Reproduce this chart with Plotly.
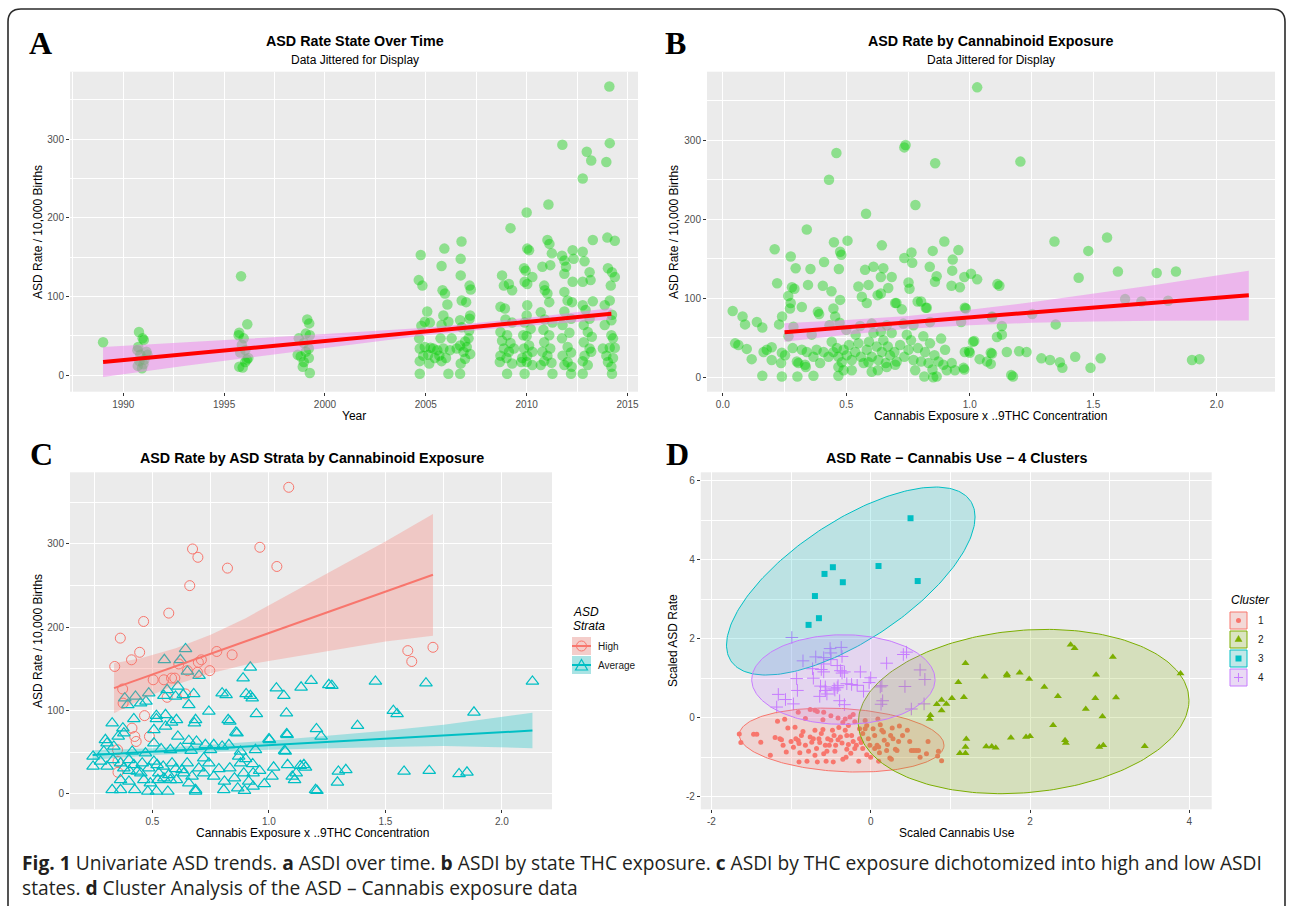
import numpy as np
import plotly.graph_objects as go

W, H = 1292, 906
FONT = "Liberation Sans, Arial, Helvetica, sans-serif"

# ---------------- Panel A : ASD rate by (jittered) year ----------------
a_year = [1989.00,
          1990.78, 1990.96, 1991.02, 1990.74, 1990.70, 1990.85, 1991.20, 1991.05, 1991.00, 1990.72, 1990.93, 1991.15, 1990.80,
          1995.84, 1996.15, 1995.75, 1995.72, 1995.97, 1995.88, 1996.05, 1995.80, 1996.13, 1996.05, 1995.75, 1995.92, 1996.20,
          1999.12, 1999.22, 1999.05, 1999.25, 1998.70, 1998.95, 1999.20, 1998.65, 1999.20, 1998.95, 1998.90, 1999.25, 1998.80, 1999.05,
          2004.75, 2004.65, 2004.83, 2005.07, 2004.95, 2005.20, 2004.78, 2004.67, 2004.70, 2004.95, 2005.23, 2004.87, 2005.12, 2004.70, 2005.17, 2004.70, 2005.37, 2005.45,
          2005.92, 2005.78, 2005.83, 2005.95, 2006.07, 2005.87, 2006.12, 2005.78, 2005.73, 2005.87, 2006.20, 2005.67, 2005.78, 2006.12, 2005.57, 2006.00, 2006.28,
          2006.77, 2006.73, 2006.73, 2007.17, 2007.23, 2006.78, 2007.00, 2007.17, 2007.20, 2006.70, 2006.78, 2007.15, 2006.95, 2007.12, 2006.70, 2007.03, 2006.87, 2007.20, 2006.95, 2006.73, 2006.70, 2006.53,
          2009.20, 2008.78, 2008.87, 2009.12, 2009.28, 2008.70, 2008.92, 2008.95, 2009.28, 2008.70, 2009.03, 2008.78, 2009.20, 2008.87, 2009.12, 2008.70, 2009.00, 2008.67, 2009.28, 2009.03, 2009.37,
          2010.00, 2010.03, 2010.12, 2009.87, 2009.95, 2010.28, 2009.90, 2010.03, 2010.03, 2010.00, 2009.90, 2010.20, 2009.83, 2010.00, 2010.12, 2009.87, 2010.28, 2010.03, 2009.78, 2010.00, 2010.28, 2009.90, 2009.73,
          2011.08, 2011.03, 2011.13, 2011.25, 2010.78, 2011.17, 2010.90, 2011.03, 2011.12, 2010.87, 2010.70, 2010.90, 2011.28, 2010.83, 2011.12, 2010.87, 2011.17, 2010.78, 2011.03, 2010.87, 2011.23, 2011.28, 2010.70,
          2011.77, 2012.28, 2011.87, 2011.95, 2011.75, 2012.33, 2012.28, 2011.87, 2012.03, 2011.87, 2012.25, 2011.87, 2012.20, 2011.78, 2012.12, 2011.75, 2012.03, 2012.20, 2011.78, 2012.03, 2012.23, 2011.87, 2012.20,
          2012.98, 2013.20, 2012.78, 2013.28, 2012.78, 2012.87, 2013.12, 2013.17, 2012.78, 2013.28, 2012.78, 2012.92, 2013.12, 2012.83, 2013.03, 2013.23, 2012.83, 2013.12, 2012.87, 2013.20, 2012.78, 2013.03, 2012.78,
          2014.10, 2014.12, 2013.95, 2014.00, 2014.37, 2014.03, 2014.23, 2014.37, 2014.17, 2013.87, 2014.12, 2014.23, 2014.20, 2013.87, 2014.20, 2014.28, 2013.78, 2014.12, 2013.95, 2014.28, 2014.03, 2014.20, 2014.23, 2014.37]
a_rate = [42,
          55, 47, 45, 36, 32, 26, 26, 20, 14, 12, 9, 30, 18,
          126, 65, 54, 51, 47, 39, 32, 29, 20, 17, 11, 10, 22,
          71, 66, 53, 51, 47, 41, 34, 26, 22, 17, 11, 3, 24, 30,
          153, 121, 114, 81, 68, 67, 63, 47, 34, 36, 35, 25, 26, 18, 15, 2, 34, 22,
          161, 139, 108, 104, 90, 76, 68, 64, 47, 34, 32, 25, 18, 2, 32, 22, 47,
          170, 148, 127, 114, 109, 95, 93, 72, 76, 70, 61, 57, 43, 47, 38, 36, 30, 27, 21, 15, 2, 34,
          187, 127, 114, 116, 108, 87, 85, 71, 67, 55, 51, 44, 41, 34, 30, 25, 22, 17, 15, 2, 34,
          207, 161, 159, 136, 133, 125, 119, 116, 89, 76, 67, 59, 51, 50, 38, 34, 30, 25, 22, 17, 13, 2, 17,
          217, 172, 167, 155, 138, 140, 108, 104, 93, 114, 80, 71, 67, 58, 51, 42, 34, 30, 25, 18, 16, 2, 13,
          293, 159, 146, 138, 152, 148, 119, 129, 95, 106, 93, 81, 72, 64, 54, 47, 36, 29, 25, 17, 11, 13, 2,
          284, 273, 250, 172, 157, 145, 131, 121, 119, 94, 89, 83, 72, 64, 55, 49, 42, 34, 25, 30, 18, 13, 2,
          367, 295, 271, 175, 171, 136, 131, 125, 114, 89, 95, 77, 70, 64, 51, 47, 34, 35, 25, 22, 17, 11, 2, 35]
a_fit_year = [1989, 1993, 1997, 2001, 2005, 2008, 2011, 2014.2]
a_fit = [17, 26.7, 36.4, 46.1, 55.8, 63.1, 70.3, 78.1]
a_lo = [-2, 12, 25, 38, 51, 58.5, 65, 71]
a_hi = [36, 41.5, 47.8, 54.2, 60.6, 67.7, 75.6, 85.5]

# ---------------- Panel B : ASD rate by cannabis exposure ----------------
b_expo = [1.03, 0.74, 0.735, 0.46, 0.86, 1.205, 0.43, 0.58, 0.78, 0.34,
          0.21, 0.275, 0.45, 0.505, 0.475, 0.48, 0.41, 0.295, 0.355, 0.47,
          0.22, 0.28, 0.29, 0.345, 0.405, 0.44, 0.265, 0.275, 0.272, 0.32,
          0.385, 0.39, 0.475, 0.448, 0.455, 0.04, 0.08, 0.09, 0.138, 0.16,
          0.228, 0.24, 0.286, 0.36, 0.05, 0.063, 0.097, 0.117, 0.165, 0.178,
          0.198, 0.239, 0.198, 0.236, 0.16, 0.239, 0.302, 0.367, 0.468, 0.603,
          0.283, 0.306, 0.333, 0.34, 0.576, 0.59, 0.61, 0.64, 0.644, 0.65,
          0.67, 0.684, 0.627, 0.64, 0.549, 0.563, 0.583, 0.698, 0.725, 0.735,
          0.764, 0.767, 0.752, 0.756, 0.803, 0.826, 0.838, 0.85, 0.866, 0.859,
          0.897, 0.931, 0.929, 0.926, 0.954, 0.96, 0.984, 0.978, 1.005, 1.03,
          1.343, 1.48, 1.556, 1.441, 1.60, 1.757, 1.835, 1.629, 1.695, 1.803,
          1.253, 1.348, 1.112, 1.12, 1.09, 1.13, 1.11, 1.13, 1.09, 1.085,
          1.15, 1.2, 1.23, 1.168, 1.175, 1.29, 1.325, 1.365, 1.375, 1.427,
          1.489, 1.53, 1.9, 1.93, 1.013, 0.997, 1.04, 1.07, 0.975, 1.085,
          0.98, 0.965, 1.09, 0.32, 0.367, 0.38, 0.394, 0.408, 0.428, 0.441,
          0.448, 0.462, 0.468, 0.482, 0.489, 0.502, 0.511, 0.522, 0.536, 0.538,
          0.549, 0.559, 0.57, 0.583, 0.592, 0.603, 0.61, 0.623, 0.63, 0.644,
          0.65, 0.66, 0.668, 0.677, 0.684, 0.695, 0.704, 0.718, 0.735, 0.745,
          0.752, 0.762, 0.772, 0.779, 0.79, 0.803, 0.812, 0.819, 0.833, 0.839,
          0.849, 0.857, 0.866, 0.873, 0.884, 0.893, 0.9, 0.907, 0.927, 0.94,
          0.978, 0.98, 1.0, 1.018, 0.816, 0.852, 0.3, 0.336, 0.252, 0.266,
          0.468, 0.489, 0.522, 0.59, 0.628, 0.664, 0.698, 0.556, 0.603, 0.64,
          0.664, 0.703, 0.731, 0.772, 0.839, 0.789, 0.822, 0.473, 0.432, 0.5]
b_rate = [367, 294, 291, 284, 271, 273, 250, 207, 218, 187,
          162, 153, 171, 173, 159, 155, 146, 138, 137, 137,
          119, 114, 112, 117, 116, 109, 103, 94, 87, 89,
          83, 80, 98, 87, 77, 84, 77, 67, 70, 63,
          67, 77, 64, 54, 43, 41, 36, 23, 32, 35,
          38, 31, 22, 18, 2, 1, 1, 2, 2, 7,
          37, 18, 16, 32, 136, 117, 140, 127, 167, 138,
          113, 127, 104, 106, 115, 102, 94, 94, 86, 151,
          158, 145, 120, 112, 96, 88, 140, 160, 128, 121,
          172, 149, 135, 116, 161, 114, 87, 127, 131, 124,
          172, 160, 177, 126, 134, 132, 134, 99, 96, 97,
          80, 67, 118, 116, 76, 65, 51, 54, 30, 17,
          32, 33, 32, 3, 1, 24, 22, 19, 12, 26,
          12, 24, 22, 23, 45, 33, 23, 20, 12, 31,
          88, 70, 77, 35, 26, 35, 18, 32, 26, 45,
          32, 37, 26, 19, 35, 28, 41, 22, 32, 54,
          43, 26, 18, 35, 45, 26, 56, 39, 22, 32,
          47, 18, 39, 28, 56, 32, 20, 41, 26, 54,
          35, 47, 22, 9, 37, 20, 52, 32, 18, 43,
          10, 28, 1, 20, 49, 16, 35, 9, 18, 9,
          10, 32, 31, 46, 1, 0, 20, 13, 28, 52,
          13, 9, 9, 19, 9, 13, 16, 65, 68, 58,
          66, 94, 68, 66, 70, 96, 88, 69, 66, 60]
b_fit_x = [0.25, 0.5, 0.75, 1.0, 1.25, 1.5, 1.75, 2.0, 2.13]
b_fit = [57, 63.2, 69.5, 75.7, 82, 88.3, 94.5, 100.8, 104]
b_lo = [45, 54, 61.5, 66, 69, 70.5, 71.5, 72, 72]
b_hi = [68.5, 72.5, 77.5, 85.5, 95, 106, 117, 129, 135]

# ---------------- Panel C : by ASD strata ----------------
c_high_x = [1.085, 0.672, 0.695, 0.961, 0.822, 1.034, 0.66, 0.57, 0.462, 0.362,
            0.338, 0.41, 0.445, 0.776, 0.842, 1.596, 1.613, 1.704, 0.613, 0.71,
            0.697, 0.65, 0.693, 0.746, 0.503, 0.549, 0.582, 0.596, 0.372, 0.374,
            0.563, 0.642, 0.466, 0.412, 0.424, 0.487, 0.43, 0.35, 0.352, 0.352]
c_high_y = [368, 294, 284, 296, 271, 273, 250, 217, 207, 187,
            153, 161, 170, 171, 167, 172, 159, 176, 156, 161,
            158, 148, 146, 148, 137, 137, 139, 139, 126, 109,
            116, 120, 94, 79, 69, 69, 63, 53, 39, 26]
c_avg_x = [0.642, 0.551, 0.62, 0.92, 0.889, 1.032, 1.064, 1.138, 1.181, 1.257,
           0.799, 0.816, 0.902, 0.928, 0.946, 1.075, 0.742, 0.677, 0.656, 0.632,
           0.599, 0.549, 0.563, 0.609, 0.484, 0.427, 0.381, 0.449, 0.394, 0.472,
           0.327, 0.42, 0.373, 0.377, 0.353, 0.298, 0.305, 0.517, 0.517, 0.556,
           0.603, 0.506, 0.556, 0.582, 0.685, 0.68, 0.825, 0.832, 0.863, 1.002,
           1.078, 1.07, 1.204, 1.224, 0.609, 0.656, 0.689, 0.727, 0.763, 0.799,
           0.828, 0.506, 0.537, 0.577, 0.62, 0.666, 0.749, 0.878, 0.942, 0.245,
           0.245, 0.277, 0.305, 0.331, 0.363, 0.377, 0.399, 0.42, 0.434, 0.456,
           0.484, 0.506, 0.527, 0.546, 0.57, 0.584, 0.603, 0.627, 0.649, 0.67,
           0.699, 0.72, 0.742, 0.763, 0.785, 0.809, 0.832, 0.852, 0.878, 0.892,
           0.913, 0.932, 0.363, 0.399, 0.463, 0.491, 0.523, 0.549, 0.577, 0.634,
           0.656, 0.685, 0.806, 0.866, 0.932, 0.327, 0.363, 0.424, 0.48, 0.517,
           0.566, 0.685, 0.895, 1.02, 1.013, 1.1, 1.135, 1.157, 1.2, 0.291,
           0.334, 0.413, 0.47, 1.58, 1.688, 1.816, 1.85, 1.298, 1.33, 1.294,
           1.206, 1.11, 1.117, 1.15, 1.08, 1.457, 1.674, 2.131, 1.27, 1.534,
           1.55, 1.88, 1.38, 1.076, 1.0, 0.858, 1.067, 0.7, 0.65, 0.92,
           0.93, 0.96, 0.98, 0.9, 0.87, 0.4, 0.45, 0.52, 0.6, 0.72]
c_avg_y = [174, 161, 161, 152, 139, 127, 118, 128, 136, 131,
           121, 119, 120, 115, 96, 97, 99, 120, 107, 119,
           117, 118, 125, 129, 121, 117, 115, 109, 107, 111,
           85, 90, 79, 73, 69, 65, 61, 94, 90, 95,
           89, 77, 81, 86, 89, 85, 89, 87, 73, 65,
           71, 51, 78, 69, 69, 64, 63, 59, 59, 57,
           59, 61, 54, 53, 55, 52, 53, 51, 53, 45,
           33, 39, 33, 41, 37, 31, 41, 35, 27, 37,
           31, 39, 25, 33, 23, 37, 17, 29, 37, 21,
           31, 25, 37, 21, 30, 15, 31, 19, 37, 25,
           15, 25, 17, 15, 17, 13, 17, 19, 17, 25,
           13, 5, 5, 7, 9, 5, 5, 5, 3, 3,
           3, 3, 4, 32, 21, 21, 34, 32, 5, 51,
           57, 51, 49, 27, 28, 24, 26, 27, 29, 14,
           4, 17, 25, 35, 35, 135, 133, 135, 130, 100,
           96, 98, 82, 72, 66, 74, 52, 142, 147, 118,
           36, 28, 12, 42, 45, 28, 25, 35, 30, 43]
c_high_fit_x = [0.335, 0.45, 0.6, 0.75, 0.9, 1.05, 1.2, 1.35, 1.5, 1.704]
c_high_fit = [127, 138.4, 153.3, 168.2, 183.1, 198, 212.9, 227.9, 242.7, 263]
c_high_lo = [97, 113, 131, 145, 155, 162, 169, 176, 183, 190]
c_high_hi = [157, 163, 175, 191, 211, 234, 257, 280, 303, 336]
c_avg_fit_x = [0.243, 0.5, 0.75, 1.0, 1.25, 1.5, 1.75, 2.0, 2.131]
c_avg_fit = [46.8, 50.8, 54.7, 58.6, 62.5, 66.4, 70.2, 74.1, 76.1]
c_avg_lo = [41, 46.5, 50.5, 53, 55, 56.5, 57.5, 56, 55]
c_avg_hi = [52.5, 55, 59, 64, 70, 76, 83, 92, 97.5]

# ---------------- Panel D : 4 clusters ----------------
d1_x = [-1.65, -1.63, -1.47, -1.43, -1.38, -1.26, -1.17, -1.08, -1.14, -1.12,
        -1.06, -1.04, -1.00, -0.95, -0.94, -0.91, -0.89, -0.90, -0.87, -0.82,
        -0.80, -0.76, -0.74, -0.72, -0.70, -0.68, -0.67, -0.65, -0.64, -0.59,
        -0.57, -0.56, -0.54, -0.52, -0.50, -0.48, -0.46, -0.47, -0.44, -0.41,
        -0.38, -0.36, -0.32, -0.31, -0.30, -0.28, -0.24, -0.22, -0.20, -0.18,
        -0.14, -0.14, -0.12, -0.10, -0.07, -0.05, -0.03, -0.01, 0.03, 0.05,
        0.08, 0.10, 0.11, 0.12, 0.14, 0.16, 0.17, 0.20, 0.21, 0.24,
        0.27, 0.28, 0.31, 0.33, 0.36, 0.46, 0.49, 0.51, 0.54, 0.57,
        0.60, 0.70, 0.72, 0.85, 0.84, 0.89, 0.10, 0.26, -0.91, -0.76,
        -0.70, -0.67, -0.59, -0.41, -0.32, -0.26, -0.22, -0.07, 0.09, -0.82,
        -0.60, -0.50, -0.35, -0.20, -0.05, -0.60, -0.85, -0.40, -0.30, -0.10,
        -0.25, -0.45, -0.62, -0.78, -0.97, -1.20, -1.10, 0.00, -0.15, -0.35,
        -0.70, 0.35, 0.40, 0.62, 0.25, 0.05, -0.55, -0.90, -0.28]
d1_y = [-0.41, -0.63, -0.42, -0.42, -0.62, -0.95, -0.09, -0.04, -0.53, -0.56,
        -0.87, -0.26, -0.60, -0.24, -0.53, -0.58, -0.89, -1.12, -0.45, -0.70,
        -1.10, -0.49, -0.62, -0.53, -0.32, -0.78, -1.12, -0.53, -0.63, -0.91,
        -0.70, -1.10, -0.53, -0.70, -0.57, -0.32, -0.45, -1.12, -0.70, -0.56,
        -0.49, -0.64, -0.32, -1.00, -0.80, -0.68, -0.45, -0.60, -0.78, -0.70,
        -0.28, -0.53, -0.63, -0.78, -0.28, -0.94, -0.53, -0.70, -0.28, -0.78,
        -0.70, -0.74, -0.89, -0.18, -0.32, -0.36, -0.57, -0.83, -0.68, -1.02,
        -0.26, -0.53, -0.80, -0.83, -0.21, -0.32, -0.60, -0.83, -0.83, -0.83,
        -0.83, -0.91, -0.60, -0.85, -0.97, -1.09, -1.10, -1.05, 0.14, 0.21,
        0.19, 0.16, 0.14, -0.01, -0.03, 0.02, 0.08, -0.07, -0.03, -0.02,
        -0.05, 0.05, -0.12, -0.10, -0.20, -0.30, -0.35, -0.25, -0.45, -0.40,
        -0.90, -0.85, -0.40, -0.85, -0.75, -0.50, -0.70, -1.00, -1.10, -1.05,
        -0.95, -0.60, -0.45, -1.00, -0.45, -0.45, -0.85, -0.65, -0.20]
d2_x = [2.51, 2.56, 3.04, 3.89, 1.19, 2.83, 1.71, 1.71, 1.87, 1.99,
        1.43, 1.10, 2.18, 2.35, 2.82, 3.08, 1.17, 1.02, 0.89, 0.83,
        0.95, 0.89, 2.70, 0.75, 0.74, 2.91, 2.29, 1.20, 1.76, 1.95,
        2.00, 2.44, 2.45, 1.19, 1.45, 1.52, 1.57, 2.87, 2.92, 3.44,
        1.12, 1.19]
d2_y = [1.85, 1.76, 1.54, 1.12, 1.38, 1.09, 1.10, 1.06, 1.14, 0.98,
        1.04, 0.90, 0.78, 0.54, 0.49, 0.51, 0.52, 0.49, 0.45, 0.34,
        0.35, 0.18, 0.22, 0.06, -0.03, 0.03, -0.19, -0.54, -0.51, -0.49,
        -0.47, -0.57, -0.64, -0.74, -0.73, -0.73, -0.76, -0.74, -0.70, -0.72,
        -0.90, -0.90]
d3_x = [0.50, -0.475, -0.58, 0.098, -0.35, 0.59, -0.70, -0.65, -0.78]
d3_y = [5.05, 3.81, 3.64, 3.84, 3.43, 3.46, 3.08, 2.52, 2.35]
d4_x = [-0.99, -0.51, -0.50, -0.37, -0.69, -0.59, -0.85, -0.50, -0.36, -0.59,
        -0.42, -0.73, -0.62, -0.59, -0.38, -0.36, -0.33, -0.13, 0.20, 0.41,
        0.45, 0.62, 0.68, 0.00, -0.02, 0.14, 0.43, -0.93, -0.72, -0.92,
        -0.63, -0.57, -0.57, -0.46, -0.42, -0.41, -0.30, -0.24, -0.17, -0.09,
        -1.16, -1.07, -0.97, -1.18, -0.64, -0.39, -0.33, 0.15, 0.13, 0.51,
        0.67, -0.45, -0.55, 0.12]
d4_y = [2.03, 1.75, 1.64, 1.78, 1.54, 1.52, 1.44, 1.47, 1.55, 1.36,
        1.32, 1.24, 1.22, 1.16, 1.19, 1.13, 1.16, 1.16, 1.38, 1.60,
        1.66, 1.21, 0.97, 1.01, 0.89, 0.81, 0.79, 0.99, 1.00, 0.69,
        0.80, 0.78, 0.69, 0.73, 0.76, 0.81, 0.86, 0.84, 0.82, 0.67,
        0.59, 0.46, 0.35, 0.27, 0.54, 0.43, 0.33, 0.43, 0.34, 0.22,
        0.35, 0.70, 0.60, 0.78]
# ellipse descriptors (centre, half-width, half-height, correlation)
ell_cx = [-0.365, 1.92, -0.25, -0.343]
ell_cy = [-0.566, 0.156, 3.46, 0.965]
ell_hw = [1.285, 2.076, 1.56, 1.151]
ell_hh = [0.81, 2.08, 2.38, 1.135]
ell_rho = [-0.16, 0.136, 0.681, 0.0]
cluster_labels = ["1", "2", "3", "4"]
cluster_colors = ["#F8766D", "#7CAE00", "#00BFC4", "#C77CFF"]

# ---------------- helpers ----------------
def X(px):
    return px / W


def Y(py):
    return 1 - py / H


def rgba(hexc, a):
    h = hexc.lstrip("#")
    return "rgba(%d,%d,%d,%.3f)" % (int(h[0:2], 16), int(h[2:4], 16), int(h[4:6], 16), a)


def axis(dom_px, rng, tickvals, ticktext, minor_vals, anchor, vertical=False):
    if vertical:
        domain = [Y(dom_px[1]), Y(dom_px[0])]
    else:
        domain = [X(dom_px[0]), X(dom_px[1])]
    return dict(domain=domain, range=rng, anchor=anchor, tickmode="array",
                tickvals=tickvals, ticktext=ticktext, showgrid=True, gridcolor="white",
                gridwidth=1.1, zeroline=False, showline=False, ticks="outside",
                ticklen=3, tickwidth=1, tickcolor="#333333",
                tickfont=dict(family=FONT, size=10, color="#4D4D4D"),
                minor=dict(tickmode="array", tickvals=minor_vals, showgrid=True,
                           gridcolor="white", gridwidth=0.55, ticks=""),
                fixedrange=True)


def band(x, lo, hi):
    return list(x) + list(x)[::-1], list(hi) + list(lo)[::-1]


fig = go.Figure()

# ---- A ----
fig.add_trace(go.Scatter(x=a_year, y=a_rate, mode="markers", xaxis="x", yaxis="y",
                         marker=dict(size=10.5, color="rgba(0,205,0,0.4)", line=dict(width=0))))
bx, by = band(a_fit_year, a_lo, a_hi)
fig.add_trace(go.Scatter(x=bx, y=by, fill="toself", fillcolor="rgba(238,130,238,0.5)",
                         line=dict(width=0), mode="lines", xaxis="x", yaxis="y"))
fig.add_trace(go.Scatter(x=a_fit_year, y=a_fit, mode="lines", line=dict(color="#FF0000", width=4),
                         xaxis="x", yaxis="y"))

# ---- B ----
fig.add_trace(go.Scatter(x=b_expo, y=b_rate, mode="markers", xaxis="x2", yaxis="y2",
                         marker=dict(size=10.5, color="rgba(0,205,0,0.4)", line=dict(width=0))))
bx, by = band(b_fit_x, b_lo, b_hi)
fig.add_trace(go.Scatter(x=bx, y=by, fill="toself", fillcolor="rgba(238,130,238,0.5)",
                         line=dict(width=0), mode="lines", xaxis="x2", yaxis="y2"))
fig.add_trace(go.Scatter(x=b_fit_x, y=b_fit, mode="lines", line=dict(color="#FF0000", width=4),
                         xaxis="x2", yaxis="y2"))

# ---- C ----
fig.add_trace(go.Scatter(x=c_high_x, y=c_high_y, mode="markers", xaxis="x3", yaxis="y3",
                         marker=dict(symbol="circle-open", size=10, color="#F8766D",
                                     line=dict(width=1, color="#F8766D"))))
fig.add_trace(go.Scatter(x=c_avg_x, y=c_avg_y, mode="markers", xaxis="x3", yaxis="y3",
                         marker=dict(symbol="triangle-up-open", size=11, color="#00BFC4",
                                     line=dict(width=1.2, color="#00BFC4"))))
for fx, fy, lo, hi, col in [(c_high_fit_x, c_high_fit, c_high_lo, c_high_hi, "#F8766D"),
                            (c_avg_fit_x, c_avg_fit, c_avg_lo, c_avg_hi, "#00BFC4")]:
    bx, by = band(fx, lo, hi)
    fig.add_trace(go.Scatter(x=bx, y=by, fill="toself", fillcolor=rgba(col, 0.3),
                             line=dict(width=0), mode="lines", xaxis="x3", yaxis="y3"))
    fig.add_trace(go.Scatter(x=fx, y=fy, mode="lines", line=dict(color=col, width=2),
                             xaxis="x3", yaxis="y3"))

# ---- D ----
fig.add_trace(go.Scatter(x=d1_x, y=d1_y, mode="markers", xaxis="x4", yaxis="y4",
                         marker=dict(symbol="circle", size=5, color=cluster_colors[0], line=dict(width=0))))
fig.add_trace(go.Scatter(x=d2_x, y=d2_y, mode="markers", xaxis="x4", yaxis="y4",
                         marker=dict(symbol="triangle-up", size=7, color=cluster_colors[1], line=dict(width=0))))
fig.add_trace(go.Scatter(x=d3_x, y=d3_y, mode="markers", xaxis="x4", yaxis="y4",
                         marker=dict(symbol="square", size=6, color=cluster_colors[2], line=dict(width=0))))
fig.add_trace(go.Scatter(x=d4_x, y=d4_y, mode="markers", xaxis="x4", yaxis="y4",
                         marker=dict(symbol="cross-thin", size=9, color=cluster_colors[3],
                                     line=dict(width=1, color=cluster_colors[3]))))
t = np.linspace(0, 2 * np.pi, 241)
for i in range(4):
    l21 = ell_rho[i] * ell_hh[i]
    l22 = ell_hh[i] * np.sqrt(1 - ell_rho[i] ** 2)
    ex = ell_cx[i] + ell_hw[i] * np.cos(t)
    ey = ell_cy[i] + l21 * np.cos(t) + l22 * np.sin(t)
    fig.add_trace(go.Scatter(x=ex, y=ey, mode="lines", fill="toself",
                             fillcolor=rgba(cluster_colors[i], 0.2),
                             line=dict(color=cluster_colors[i], width=1),
                             xaxis="x4", yaxis="y4"))

# ---- axes ----
A_X, A_Y = (70, 638), (71.7, 391.7)
B_X, B_Y = (707, 1275), (71.7, 391.7)
C_X, C_Y = (70, 552), (472.3, 809.3)
D_X, D_Y = (700.8, 1211.7), (472.3, 809.3)
rate_ticks = [0, 100, 200, 300]
rate_text = ["0", "100", "200", "300"]
fig.update_layout(
    xaxis=axis(A_X, [1987.36, 2015.52], [1990, 1995, 2000, 2005, 2010, 2015],
               ["1990", "1995", "2000", "2005", "2010", "2015"],
               [1987.5, 1992.5, 1997.5, 2002.5, 2007.5, 2012.5], "y"),
    yaxis=axis(A_Y, [-20.8, 385.8], rate_ticks, rate_text, [50, 150, 250, 350], "x", True),
    xaxis2=axis(B_X, [-0.064, 2.236], [0, 0.5, 1.0, 1.5, 2.0], ["0.0", "0.5", "1.0", "1.5", "2.0"],
                [0.25, 0.75, 1.25, 1.75], "y2"),
    yaxis2=axis(B_Y, [-18.2, 386.8], rate_ticks, rate_text, [50, 150, 250, 350], "x2", True),
    xaxis3=axis(C_X, [0.146, 2.215], [0.5, 1.0, 1.5, 2.0], ["0.5", "1.0", "1.5", "2.0"],
                [0.25, 0.75, 1.25, 1.75], "y3"),
    yaxis3=axis(C_Y, [-18.4, 386], rate_ticks, rate_text, [50, 150, 250, 350], "x3", True),
    xaxis4=axis(D_X, [-2.133, 4.281], [-2, 0, 2, 4], ["-2", "0", "2", "4"], [-1, 1, 3], "y4"),
    yaxis4=axis(D_Y, [-2.319, 6.213], [-2, 0, 2, 4, 6], ["-2", "0", "2", "4", "6"], [-1, 1, 3, 5], "x4", True),
)

# ---- annotations ----
ann = []


def text(px, py, s, size, bold=False, italic=False, family=FONT, angle=0, xanchor="center",
         color="#000000"):
    if bold:
        s = "<b>" + s + "</b>"
    if italic:
        s = "<i>" + s + "</i>"
    ann.append(dict(x=X(px), y=Y(py), xref="paper", yref="paper", text=s, showarrow=False,
                    xanchor=xanchor, yanchor="middle", textangle=angle,
                    font=dict(family=family, size=size, color=color)))


SERIF = "Liberation Serif, Times New Roman, serif"
text(40, 43, "A", 32, bold=True, family=SERIF)
text(675, 43, "B", 32, bold=True, family=SERIF)
text(41, 454, "C", 32, bold=True, family=SERIF)
text(677, 454, "D", 32, bold=True, family=SERIF)

TS = 14.3
text(355, 41, "ASD Rate State Over Time", TS, bold=True)
text(355, 59.5, "Data Jittered for Display", 12)
text(991, 41, "ASD Rate by Cannabinoid Exposure", TS, bold=True)
text(991, 59.5, "Data Jittered for Display", 12)
text(312, 458, "ASD Rate by ASD Strata by Cannabinoid Exposure", TS, bold=True)
text(956, 458, "ASD Rate \u2212 Cannabis Use \u2212 4 Clusters", TS, bold=True)

text(354, 415.5, "Year", 12)
text(990, 415.5, "Cannabis Exposure x ..9THC Concentration", 12)
text(312, 833, "Cannabis Exposure x ..9THC Concentration", 12)
text(957, 833, "Scaled Cannabis Use", 12)
text(38, 232, "ASD Rate / 10,000 Births", 12, angle=-90)
text(674, 232, "ASD Rate / 10,000 Births", 12, angle=-90)
text(38, 641, "ASD Rate / 10,000 Births", 12, angle=-90)
text(673, 641, "Scaled ASD Rate", 12, angle=-90)

# legend texts
text(571, 612, "ASD", 12, italic=True, xanchor="left")
text(571, 626, "Strata", 12, italic=True, xanchor="left")
text(596, 646, "High", 10, xanchor="left", color="#1A1A1A")
text(596, 665, "Average", 10, xanchor="left", color="#1A1A1A")
text(1229, 600, "Cluster", 12, italic=True, xanchor="left")
for i, lab in enumerate(cluster_labels):
    text(1256, 620.5 + 19 * i, lab, 10, xanchor="left", color="#1A1A1A")

# caption
CAP = "Open Sans, Liberation Sans, sans-serif"
text(20, 862, "<b>Fig. 1</b> Univariate ASD trends. <b>a</b> ASDI over time. <b>b</b> ASDI by state THC exposure. "
              "<b>c</b> ASDI by THC exposure dichotomized into high and low ASDI", 19.2, family=CAP,
     xanchor="left", color="#231F20")
text(20, 887, "states. <b>d</b> Cluster Analysis of the ASD \u2013 Cannabis exposure data", 19.2, family=CAP,
     xanchor="left", color="#231F20")

# ---- shapes: legend keys + outer frame ----
shapes = []


def rect(x0, y0, x1, y1, fill, line_color=None, lw=0):
    shapes.append(dict(type="rect", xref="paper", yref="paper", x0=X(x0), x1=X(x1), y0=Y(y1), y1=Y(y0),
                       fillcolor=fill, line=dict(width=lw, color=line_color or fill), layer="above"))


def path(points, fill=None, color="#000", lw=1, close=True):
    d = "M " + " L ".join("%.5f,%.5f" % (X(p[0]), Y(p[1])) for p in points)
    if close:
        d += " Z"
    shapes.append(dict(type="path", xref="paper", yref="paper", path=d,
                       fillcolor=fill if fill else "rgba(0,0,0,0)",
                       line=dict(color=color, width=lw), layer="above"))


# C legend keys
for (y0, col) in [(637, "#F8766D"), (656, "#00BFC4")]:
    rect(572, y0, 591, y0 + 18, "#F2F2F2")
    rect(572, y0, 591, y0 + 18, rgba(col, 0.3))
    path([(572, y0 + 9), (591, y0 + 9)], color=col, lw=2, close=False)
shapes.append(dict(type="circle", xref="paper", yref="paper", x0=X(576.5), x1=X(586.5), y0=Y(651), y1=Y(641),
                   line=dict(color="#F8766D", width=1), fillcolor="rgba(0,0,0,0)", layer="above"))
path([(581.5, 659.5), (587.5, 670), (575.5, 670)], color="#00BFC4", lw=1.2)

# D legend keys
for i in range(4):
    y0 = 612 + 19 * i
    rect(1230, y0, 1247, y0 + 17, "#F2F2F2")
    rect(1230, y0, 1247, y0 + 17, rgba(cluster_colors[i], 0.2), cluster_colors[i], 1)
cxl = 1238.5
shapes.append(dict(type="circle", xref="paper", yref="paper", x0=X(cxl - 2.5), x1=X(cxl + 2.5),
                   y0=Y(620.5 + 2.5), y1=Y(620.5 - 2.5), fillcolor=cluster_colors[0],
                   line=dict(width=0), layer="above"))
path([(cxl, 635.5), (cxl + 3.5, 641.5), (cxl - 3.5, 641.5)], fill=cluster_colors[1], color=cluster_colors[1], lw=0.5)
rect(cxl - 3, 655.5, cxl + 3, 661.5, cluster_colors[2])
path([(cxl - 4.5, 677.5), (cxl + 4.5, 677.5)], color=cluster_colors[3], lw=1, close=False)
path([(cxl, 673), (cxl, 682)], color=cluster_colors[3], lw=1, close=False)

# outer frame (rounded top, open at the bottom edge)
frame = ("M %.5f,%.5f L %.5f,%.5f Q %.5f,%.5f %.5f,%.5f L %.5f,%.5f Q %.5f,%.5f %.5f,%.5f L %.5f,%.5f" % (
    X(8), Y(906), X(8), Y(22), X(8), Y(9), X(21), Y(9), X(1272), Y(9), X(1285), Y(9), X(1285), Y(22),
    X(1285), Y(906)))
shapes.append(dict(type="path", xref="paper", yref="paper", path=frame,
                   line=dict(color="#2B2B2B", width=1.6), layer="above"))

fig.update_layout(width=W, height=H, margin=dict(l=0, r=0, t=0, b=0),
                  paper_bgcolor="white", plot_bgcolor="#EBEBEB", showlegend=False,
                  annotations=ann, shapes=shapes)

# remove the browser's default 8px page margin so the figure sits at the window origin
fig.write_html("out.html", config={"displayModeBar": False},
               post_script="document.body.style.margin='0';document.body.style.overflow='hidden';")
